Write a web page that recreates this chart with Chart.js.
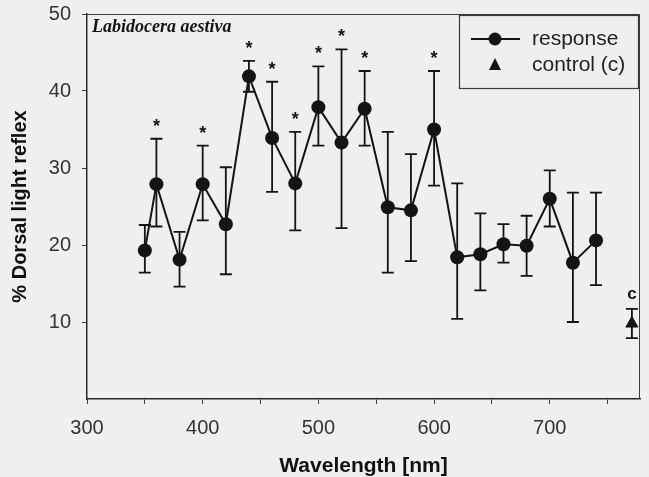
<!DOCTYPE html>
<html lang="en">
<head>
<meta charset="UTF-8">
<title>Labidocera aestiva - dorsal light reflex</title>
<script src="https://cdn.jsdelivr.net/npm/chart.js"></script>
<style>
  html, body { margin: 0; padding: 0; background: #f0efed; }
  #wrap { width: 649px; height: 477px; position: relative; }
</style>
</head>
<body>
<div id="wrap"><canvas id="chart" width="649" height="477"></canvas></div>
<script>
// data
var wavelengths = [350, 360, 380, 400, 420, 440, 460, 480, 500, 520, 540, 560, 580, 600, 620, 640, 660, 680, 700, 720, 740];
var response    = [19.3, 27.9, 18.1, 27.9, 22.7, 41.9, 33.9, 28.0, 37.9, 33.3, 37.7, 24.9, 24.5, 35.0, 18.4, 18.8, 20.1, 19.9, 26.0, 17.7, 20.6];
var errUpper    = [22.6, 33.8, 21.7, 32.9, 30.1, 43.9, 41.2, 34.7, 43.2, 45.4, 42.6, 34.7, 31.8, 42.6, 28.0, 24.1, 22.7, 23.8, 29.7, 26.8, 26.8];
var errLower    = [16.4, 22.4, 14.6, 23.2, 16.2, 39.9, 26.9, 21.9, 32.9, 22.2, 32.9, 16.4, 17.9, 27.7, 10.4, 14.1, 17.7, 16.0, 22.4, 10.0, 14.8];
var significant = [false, true, false, true, false, true, true, true, true, true, true, false, false, true, false, false, false, false, false, false, false];

var controlX     = [771];
var controlY     = [9.8];
var controlUpper = [11.7];
var controlLower = [7.9];

var xTicks = [300, 400, 500, 600, 700];

var ink = "#141414";
var font = "'Liberation Sans', Arial, sans-serif";

// background, frame, error bars, asterisks, species name, legend
var figurePlugin = {
  id: "figure",
  beforeDraw: function (chart) {
    var c = chart.ctx;
    c.save();
    c.fillStyle = "#f0efed";
    c.fillRect(0, 0, chart.width, chart.height);
    c.restore();
  },
  beforeDatasetsDraw: function (chart) {
    var c = chart.ctx, xs = chart.scales.x, ys = chart.scales.y;
    c.save();
    c.strokeStyle = ink;
    c.lineWidth = 1.8;
    function bar(xv, lo, hi) {
      var px = xs.getPixelForValue(xv);
      var top = ys.getPixelForValue(hi), bot = ys.getPixelForValue(lo);
      c.beginPath();
      c.moveTo(px, top); c.lineTo(px, bot);
      c.moveTo(px - 6, top); c.lineTo(px + 6, top);
      c.moveTo(px - 6, bot); c.lineTo(px + 6, bot);
      c.stroke();
    }
    wavelengths.forEach(function (w, i) { bar(w, errLower[i], errUpper[i]); });
    controlX.forEach(function (w, i) { bar(w, controlLower[i], controlUpper[i]); });
    c.restore();
  },
  afterDraw: function (chart) {
    var c = chart.ctx, xs = chart.scales.x, ys = chart.scales.y, a = chart.chartArea;
    c.save();
    // frame
    c.strokeStyle = "#3a3a3a";
    c.lineWidth = 1;
    c.beginPath();
    c.moveTo(a.left, a.top + 0.5); c.lineTo(a.right - 0.5, a.top + 0.5); c.lineTo(a.right - 0.5, a.bottom);
    c.stroke();

    // asterisks
    c.fillStyle = ink;
    c.font = "bold 18px " + font;
    c.textAlign = "center";
    c.textBaseline = "middle";
    wavelengths.forEach(function (w, i) {
      if (significant[i]) {
        c.fillText("*", xs.getPixelForValue(w), ys.getPixelForValue(errUpper[i]) - 12);
      }
    });
    // control label
    c.font = "bold 17px " + font;
    c.fillText("c", xs.getPixelForValue(controlX[0]), ys.getPixelForValue(controlUpper[0]) - 15);

    // species name
    c.font = "italic bold 18px 'Liberation Serif', 'Times New Roman', serif";
    c.textAlign = "left";
    c.fillText("Labidocera aestiva", a.left + 5, a.top + 13);

    // legend box
    var lx = 459, ly = 15, lw = 179, lh = 73;
    c.fillStyle = "#f0efed";
    c.fillRect(lx, ly, lw, lh);
    c.strokeStyle = "#3a3a3a";
    c.lineWidth = 1.2;
    c.strokeRect(lx + 0.5, ly + 0.5, lw, lh);
    c.strokeStyle = ink;
    c.lineWidth = 2;
    c.beginPath(); c.moveTo(lx + 12, ly + 24); c.lineTo(lx + 61, ly + 24); c.stroke();
    c.fillStyle = ink;
    c.beginPath(); c.arc(lx + 36, ly + 24, 6.5, 0, Math.PI * 2); c.fill();
    c.beginPath();
    c.moveTo(lx + 36, ly + 43); c.lineTo(lx + 42, ly + 55); c.lineTo(lx + 30, ly + 55); c.closePath();
    c.fill();
    c.font = "21px " + font;
    c.fillStyle = "#222";
    c.textBaseline = "middle";
    c.fillText("response", lx + 73, ly + 24);
    c.fillText("control (c)", lx + 73, ly + 50);
    c.restore();
  }
};

new Chart(document.getElementById("chart").getContext("2d"), {
  type: "scatter",
  data: {
    datasets: [{
      label: "response",
      data: wavelengths.map(function (w, i) { return { x: w, y: response[i] }; }),
      showLine: true,
      borderColor: ink,
      borderWidth: 2,
      backgroundColor: ink,
      pointRadius: 7,
      pointHoverRadius: 7,
      pointBorderWidth: 0,
      tension: 0
    }, {
      label: "control (c)",
      data: controlX.map(function (w, i) { return { x: w, y: controlY[i] }; }),
      showLine: false,
      pointStyle: "triangle",
      backgroundColor: ink,
      borderColor: ink,
      pointRadius: 7,
      pointHoverRadius: 7
    }]
  },
  options: {
    responsive: false,
    animation: false,
    layout: { padding: { left: 10, right: 9, top: 14, bottom: 0 } },
    plugins: { legend: { display: false }, tooltip: { enabled: false } },
    scales: {
      x: {
        type: "linear",
        min: 300,
        max: 778,
        afterBuildTicks: function (scale) {
          var t = [];
          for (var v = 300; v <= 750; v += 50) t.push({ value: v });
          scale.ticks = t;
        },
        ticks: {
          autoSkip: false,
          maxRotation: 0,
          padding: 12,
          color: "#333",
          font: { family: font, size: 20 },
          callback: function (v) { return xTicks.indexOf(v) >= 0 ? String(v) : ""; }
        },
        grid: { drawOnChartArea: false, tickLength: 5, color: "#3a3a3a", lineWidth: 1 },
        border: { color: "#2a2a2a", width: 1.5 },
        title: {
          display: true,
          text: "Wavelength [nm]",
          color: "#111",
          font: { family: font, size: 21, weight: "bold", lineHeight: 1 },
          padding: { top: 10, bottom: 0 }
        },
        afterFit: function (scale) {
          scale.height = 78;
          scale.paddingLeft = 0;
          scale.paddingRight = 0;
        }
      },
      y: {
        min: 0,
        max: 50,
        ticks: {
          stepSize: 10,
          padding: 11,
          color: "#333",
          font: { family: font, size: 20 },
          callback: function (v) { return v === 0 ? "" : String(v); }
        },
        grid: {
          drawOnChartArea: false,
          tickLength: 5,
          lineWidth: 1,
          color: function (ctx) { return ctx.tick && ctx.tick.value === 0 ? "rgba(0,0,0,0)" : "#3a3a3a"; }
        },
        border: { color: "#2a2a2a", width: 1.5 },
        title: {
          display: true,
          text: "% Dorsal light reflex",
          color: "#111",
          font: { family: font, size: 20, weight: "bold", lineHeight: 1 },
          padding: { top: 0, bottom: 0 }
        },
        afterFit: function (scale) {
          scale.width = 77;
          scale.paddingTop = 0;
          scale.paddingBottom = 0;
        }
      }
    }
  },
  plugins: [figurePlugin]
});
</script>
</body>
</html>
